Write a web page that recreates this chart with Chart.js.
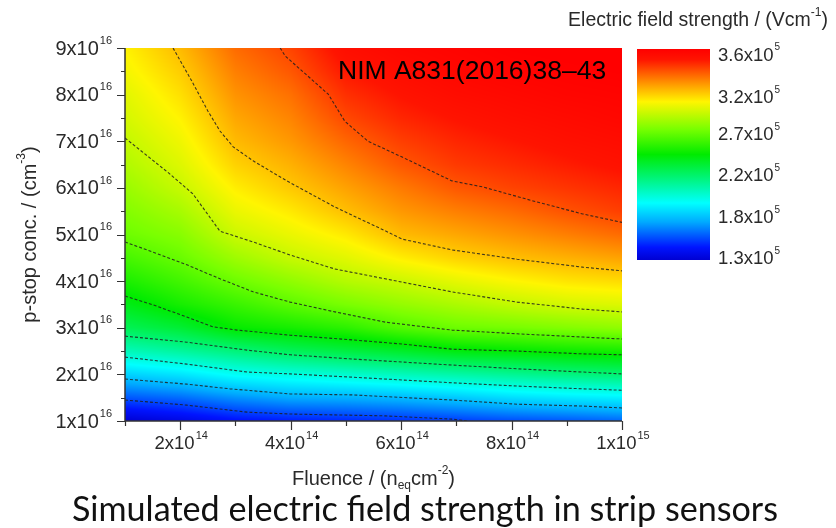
<!DOCTYPE html>
<html>
<head>
<meta charset="utf-8">
<script src="https://cdn.jsdelivr.net/npm/chart.js@4.4.1/dist/chart.umd.min.js"></script>
<style>
  html, body { margin: 0; padding: 0; background: #fff; }
  #wrap { position: relative; width: 836px; height: 528px; overflow: hidden; }
  #wrap canvas { position: absolute; left: 0; top: 0; }
  #caption {
    position: absolute; left: 72px; top: 490px; white-space: nowrap;
    font-family: Lato, "Open Sans", sans-serif; font-size: 30px; line-height: 36px; color: #111;
  }
</style>
</head>
<body>
<div id="wrap">
  <canvas id="fieldChart" width="836" height="528"></canvas>
  <canvas id="barChart" width="836" height="528"></canvas>
  <div id="caption">Simulated electric field strength in strip sensors</div>
</div>
<script>
// grid of the simulation
const fluence = [1, 2, 3, 4, 5, 6, 7, 8, 9, 10];                                  // x1e14 neq/cm2
const concentration = [1, 1.5, 2, 2.5, 3, 3.5, 4, 4.5, 5, 5.5, 6, 6.5, 7, 7.5, 8, 8.5, 9]; // x1e16 cm-3

// electric field, x1e5 V/cm, one row per concentration (bottom to top)
const fieldStrength = [
  [1.30, 1.35, 1.42, 1.45, 1.47, 1.49, 1.51, 1.54, 1.56, 1.59],
  [1.56, 1.60, 1.67, 1.72, 1.73, 1.75, 1.79, 1.84, 1.87, 1.89],
  [1.81, 1.86, 1.94, 1.98, 2.02, 2.06, 2.10, 2.14, 2.18, 2.21],
  [2.06, 2.12, 2.19, 2.26, 2.31, 2.36, 2.42, 2.45, 2.48, 2.50],
  [2.27, 2.34, 2.46, 2.50, 2.55, 2.64, 2.70, 2.72, 2.75, 2.78],
  [2.40, 2.50, 2.58, 2.66, 2.73, 2.79, 2.84, 2.89, 2.93, 2.95],
  [2.51, 2.60, 2.70, 2.78, 2.86, 2.91, 2.97, 3.02, 3.06, 3.08],
  [2.61, 2.69, 2.81, 2.90, 2.96, 3.04, 3.10, 3.14, 3.17, 3.20],
  [2.70, 2.76, 2.91, 2.98, 3.05, 3.15, 3.19, 3.23, 3.27, 3.31],
  [2.75, 2.83, 2.98, 3.05, 3.14, 3.22, 3.27, 3.31, 3.36, 3.40],
  [2.80, 2.90, 3.04, 3.12, 3.20, 3.28, 3.35, 3.39, 3.42, 3.45],
  [2.85, 2.95, 3.10, 3.17, 3.26, 3.35, 3.41, 3.44, 3.47, 3.50],
  [2.89, 2.99, 3.15, 3.22, 3.32, 3.40, 3.45, 3.48, 3.51, 3.53],
  [2.93, 3.03, 3.19, 3.26, 3.38, 3.45, 3.49, 3.52, 3.54, 3.56],
  [2.96, 3.07, 3.23, 3.30, 3.43, 3.49, 3.53, 3.55, 3.57, 3.58],
  [3.00, 3.11, 3.27, 3.35, 3.48, 3.53, 3.56, 3.58, 3.59, 3.60],
  [3.03, 3.15, 3.31, 3.39, 3.52, 3.56, 3.58, 3.60, 3.61, 3.62]
];

// dashed iso-lines, [fluence, concentration] pairs
const contour153 = [[1, 1.45], [2.12, 1.34], [3.21, 1.19], [3.99, 1.15], [5.71, 1.11], [6.92, 1.04], [7.2, 1.0]];
const contour176 = [[1, 1.90], [2.12, 1.79], [2.90, 1.69], [3.99, 1.58], [5.11, 1.56], [6.92, 1.45], [8.10, 1.36], [9.29, 1.32], [10, 1.28]];
const contour199 = [[1, 2.37], [2.12, 2.22], [3.21, 2.05], [3.99, 2.01], [5.11, 1.94], [6.92, 1.82], [8.10, 1.75], [9.29, 1.69], [10, 1.66]];
const contour222 = [[1, 2.82], [2.12, 2.69], [3.21, 2.52], [3.99, 2.42], [5.11, 2.33], [6.92, 2.20], [8.10, 2.12], [9.29, 2.05], [10, 2.01]];
const contour245 = [[1, 3.68], [1.51, 3.49], [2.12, 3.23], [2.59, 3.02], [3.03, 2.95], [3.99, 2.84], [5.11, 2.74], [6.02, 2.65], [6.92, 2.54], [8.10, 2.50], [9.29, 2.44], [10, 2.42]];
const contour268 = [[1, 4.84], [1.51, 4.62], [2.12, 4.35], [2.72, 4.05], [3.32, 3.77], [3.99, 3.55], [4.80, 3.34], [5.71, 3.12], [6.92, 2.95], [8.10, 2.87], [9.29, 2.80], [10, 2.76]];
const contour291 = [[1, 7.07], [1.81, 6.30], [2.23, 5.87], [2.72, 5.07], [3.32, 4.84], [3.99, 4.56], [4.80, 4.26], [5.71, 4.05], [6.92, 3.77], [8.10, 3.55], [9.29, 3.40], [10, 3.34]];
const contour314 = [[1.87, 9.0], [2.21, 8.29], [2.50, 7.65], [2.72, 7.22], [2.96, 6.88], [3.32, 6.58], [3.93, 6.15], [4.80, 5.59], [5.71, 5.08], [6.02, 4.90], [6.92, 4.67], [8.10, 4.47], [9.29, 4.30], [10, 4.22]];
const contour337 = [[3.81, 9.0], [3.90, 8.83], [4.68, 8.01], [4.98, 7.43], [5.40, 7.0], [6.02, 6.66], [6.92, 6.15], [7.48, 6.02], [8.39, 5.72], [9.29, 5.44], [10, 5.26]];

const xTickValues = [2, 4, 6, 8, 10];
const xTickLabels = ['2x10^14', '4x10^14', '6x10^14', '8x10^14', '1x10^15'];
const yTickValues = [1, 2, 3, 4, 5, 6, 7, 8, 9];
const yTickLabels = ['1x10^16', '2x10^16', '3x10^16', '4x10^16', '5x10^16', '6x10^16', '7x10^16', '8x10^16', '9x10^16'];

// colour scale, x1e5 V/cm
const fieldMin = 1.3;
const fieldMax = 3.6;
const barTickValues = [1.31, 1.76, 2.22, 2.66, 3.07, 3.53];
const barTickLabels = ['1.3x10^5', '1.8x10^5', '2.2x10^5', '2.7x10^5', '3.2x10^5', '3.6x10^5'];

// rainbow palette: fraction, r, g, b
const palette = [
  [0.00, 0, 0, 210], [0.06, 0, 20, 255], [0.18, 0, 170, 255], [0.27, 0, 255, 255],
  [0.38, 0, 245, 130], [0.50, 0, 235, 0], [0.62, 120, 255, 0], [0.75, 255, 245, 0],
  [0.81, 255, 180, 0], [0.88, 255, 100, 0], [0.95, 255, 20, 0], [1.00, 255, 0, 0]
];

const FONT = '"Liberation Sans", Arial, sans-serif';
const TEXT = '#2a2a2a';

function paletteColor(v) {
  let f = (v - fieldMin) / (fieldMax - fieldMin);
  f = Math.max(0, Math.min(1, f));
  for (let k = 0; k < palette.length - 1; k++) {
    const a = palette[k], b = palette[k + 1];
    if (f <= b[0]) {
      const t = (f - a[0]) / (b[0] - a[0]);
      return [a[1] + t * (b[1] - a[1]), a[2] + t * (b[2] - a[2]), a[3] + t * (b[3] - a[3])];
    }
  }
  const last = palette[palette.length - 1];
  return [last[1], last[2], last[3]];
}

function locate(arr, v) {
  let k = 0;
  while (k < arr.length - 2 && v > arr[k + 1]) k++;
  return k;
}

function sampleField(u, c) {
  const i = locate(fluence, u), j = locate(concentration, c);
  let tx = (u - fluence[i]) / (fluence[i + 1] - fluence[i]);
  let ty = (c - concentration[j]) / (concentration[j + 1] - concentration[j]);
  tx = Math.max(0, Math.min(1, tx));
  ty = Math.max(0, Math.min(1, ty));
  const f = fieldStrength;
  const lo = (1 - tx) * f[j][i] + tx * f[j][i + 1];
  const hi = (1 - tx) * f[j + 1][i] + tx * f[j + 1][i + 1];
  return (1 - ty) * lo + ty * hi;
}

// text with ^superscript, e.g. '2x10^14'
function drawPower(ctx, text, x, y, align, size, supSize) {
  const parts = text.split('^');
  ctx.font = size + 'px ' + FONT;
  const bw = ctx.measureText(parts[0]).width;
  ctx.font = supSize + 'px ' + FONT;
  const sw = parts[1] ? ctx.measureText(parts[1]).width + 1 : 0;
  let left = x;
  if (align === 'center') left = x - (bw + sw) / 2;
  if (align === 'right') left = x - bw - sw;
  ctx.textAlign = 'left';
  ctx.textBaseline = 'middle';
  ctx.fillStyle = TEXT;
  ctx.font = size + 'px ' + FONT;
  ctx.fillText(parts[0], left, y);
  if (parts[1]) {
    ctx.font = supSize + 'px ' + FONT;
    ctx.fillText(parts[1], left + bw + 1, y - size * 0.42);
  }
}

// rich text from segments {t, sub, sup}, centred at x
function drawRich(ctx, segs, x, y, size) {
  const small = Math.round(size * 0.6);
  let total = 0;
  segs.forEach(s => {
    ctx.font = (s.sub || s.sup ? small : size) + 'px ' + FONT;
    s.w = ctx.measureText(s.t).width;
    total += s.w;
  });
  let cx = x - total / 2;
  ctx.textAlign = 'left';
  ctx.textBaseline = 'middle';
  ctx.fillStyle = TEXT;
  segs.forEach(s => {
    ctx.font = (s.sub || s.sup ? small : size) + 'px ' + FONT;
    let dy = 0;
    if (s.sub) dy = size * 0.35;
    if (s.sup) dy = -size * 0.42;
    ctx.fillText(s.t, cx, y + dy);
    cx += s.w;
  });
}

const heatmapPlugin = {
  id: 'heatmap',
  beforeDatasetsDraw(chart) {
    const { ctx, chartArea: a, scales: { x, y } } = chart;
    const w = Math.round(a.right - a.left), h = Math.round(a.bottom - a.top);
    const img = ctx.createImageData(w, h);
    for (let py = 0; py < h; py++) {
      const c = y.getValueForPixel(a.top + py + 0.5);
      for (let px = 0; px < w; px++) {
        const u = x.getValueForPixel(a.left + px + 0.5);
        const rgb = paletteColor(sampleField(u, c));
        const o = (py * w + px) * 4;
        img.data[o] = rgb[0];
        img.data[o + 1] = rgb[1];
        img.data[o + 2] = rgb[2];
        img.data[o + 3] = 255;
      }
    }
    ctx.putImageData(img, Math.round(a.left), Math.round(a.top));
  }
};

const axesPlugin = {
  id: 'axesDraw',
  afterDatasetsDraw(chart) {
    const { ctx, chartArea: a, scales: { x, y } } = chart;
    ctx.save();
    ctx.strokeStyle = '#333';
    ctx.lineWidth = 1.5;
    ctx.beginPath();
    ctx.moveTo(a.left, a.top);
    ctx.lineTo(a.left, a.bottom);
    ctx.lineTo(a.right, a.bottom);
    ctx.stroke();

    // ticks: majors labelled, minors in between
    ctx.lineWidth = 1.2;
    ctx.beginPath();
    for (let v = 1; v <= 10; v++) {
      const px = Math.round(x.getPixelForValue(v)) + 0.5;
      const len = v % 2 === 0 ? 9 : 5;
      ctx.moveTo(px, a.bottom);
      ctx.lineTo(px, a.bottom + len);
    }
    for (let v = 1; v <= 9; v += 0.5) {
      const py = Math.round(y.getPixelForValue(v)) + 0.5;
      const len = Number.isInteger(v) ? 8 : 4;
      ctx.moveTo(a.left, py);
      ctx.lineTo(a.left - len, py);
    }
    ctx.stroke();

    xTickValues.forEach((v, i) => {
      drawPower(ctx, xTickLabels[i], x.getPixelForValue(v) + 1, a.bottom + 23, 'center', 18.5, 11);
    });
    yTickValues.forEach((v, i) => {
      drawPower(ctx, yTickLabels[i], a.left - 13, y.getPixelForValue(v) + 1, 'right', 20, 11);
    });

    drawRich(ctx, [{ t: 'Fluence / (n' }, { t: 'eq', sub: true }, { t: 'cm' }, { t: '-2', sup: true }, { t: ')' }],
      (a.left + a.right) / 2, 479, 20);

    ctx.save();
    ctx.translate(30, (a.top + a.bottom) / 2);
    ctx.rotate(-Math.PI / 2);
    drawRich(ctx, [{ t: 'p-stop conc. / (cm' }, { t: '-3', sup: true }, { t: ')' }], 0, 0, 20);
    ctx.restore();

    ctx.fillStyle = '#000';
    ctx.font = '26.5px ' + FONT;
    ctx.textAlign = 'left';
    ctx.textBaseline = 'middle';
    ctx.fillText('NIM A831(2016)38\u201343', 338, 72);
    ctx.restore();
  }
};

function toPoints(line) {
  return line.map(p => ({ x: p[0], y: p[1] }));
}

const contourLines = [contour153, contour176, contour199, contour222, contour245,
  contour268, contour291, contour314, contour337];

new Chart(document.getElementById('fieldChart'), {
  type: 'scatter',
  data: {
    datasets: contourLines.map(line => ({
      data: toPoints(line),
      showLine: true,
      borderColor: 'rgba(30,30,30,0.85)',
      borderWidth: 1.1,
      borderDash: [3, 2],
      pointRadius: 0,
      tension: 0
    }))
  },
  options: {
    responsive: false,
    animation: false,
    layout: { padding: { left: 125, top: 48, right: 214, bottom: 107 } },
    scales: {
      x: { type: 'linear', min: 1, max: 10, display: false },
      y: { type: 'linear', min: 1, max: 9, display: false }
    },
    plugins: { legend: { display: false }, tooltip: { enabled: false } }
  },
  plugins: [heatmapPlugin, axesPlugin]
});

// colour bar as one floating bar filled with the palette
const barLabelsPlugin = {
  id: 'barLabels',
  afterDatasetsDraw(chart) {
    const { ctx, chartArea: a, scales: { y } } = chart;
    ctx.save();
    barTickValues.forEach((v, i) => {
      drawPower(ctx, barTickLabels[i], a.right + 8, y.getPixelForValue(v), 'left', 18.5, 10);
    });
    drawRich(ctx, [{ t: 'Electric field strength / (Vcm' }, { t: '-1', sup: true }, { t: ')' }], 698, 21, 19.5);
    ctx.restore();
  }
};

new Chart(document.getElementById('barChart'), {
  type: 'bar',
  data: {
    labels: [''],
    datasets: [{
      data: [[fieldMin, fieldMax]],
      barPercentage: 1,
      categoryPercentage: 1,
      borderWidth: 0,
      backgroundColor: (c) => {
        const area = c.chart.chartArea;
        if (!area) return '#888';
        const g = c.chart.ctx.createLinearGradient(0, area.bottom, 0, area.top);
        palette.forEach(s => g.addColorStop(s[0], 'rgb(' + s[1] + ',' + s[2] + ',' + s[3] + ')'));
        return g;
      }
    }]
  },
  options: {
    responsive: false,
    animation: false,
    layout: { padding: { left: 637, top: 49, right: 126, bottom: 268 } },
    scales: {
      x: { display: false },
      y: { type: 'linear', min: fieldMin, max: fieldMax, display: false }
    },
    plugins: { legend: { display: false }, tooltip: { enabled: false } }
  },
  plugins: [barLabelsPlugin]
});

// stretch the caption to the slide width of the original
(function () {
  const cap = document.getElementById('caption');
  const w = cap.getBoundingClientRect().width;
  const size = 30 * 706 / w;
  cap.style.fontSize = size.toFixed(2) + 'px';
  cap.style.top = (521 - size * 0.99 - (36 - size * 1.2) / 2) + 'px';
})();
</script>
</body>
</html>
